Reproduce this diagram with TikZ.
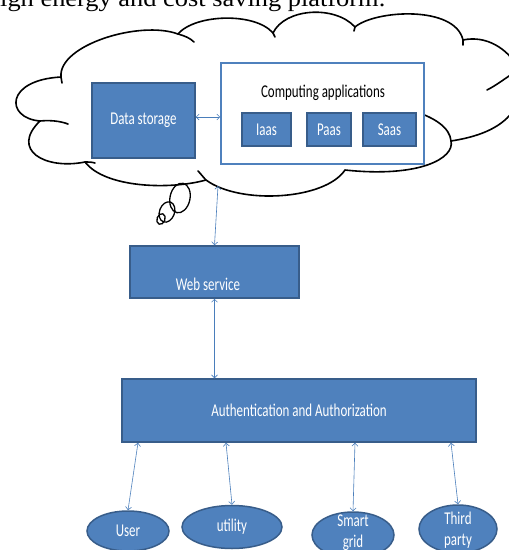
\documentclass[tikz,border=0pt]{standalone}
\usepackage{graphicx}
\usepackage{fontspec}
\setmainfont{Carlito}
\newfontfamily\pagefont{Liberation Serif}
\usetikzlibrary{arrows.meta}
\usetikzlibrary{shapes.geometric}

\definecolor{officeblue}{HTML}{4F81BD}
\definecolor{officeedge}{HTML}{385D8A}
\definecolor{linkblue}{HTML}{4A7EBB}
\newcommand{\sq}[1]{\scalebox{0.72}[1]{#1}}

\begin{document}
\begin{tikzpicture}[x=1pt, y=-1pt, font=\fontsize{18}{20}\selectfont,
    bluebox/.style={draw=officeedge, line width=1.5pt, fill=officeblue, text=white, inner sep=0pt},
    bluedisc/.style={ellipse, draw=officeedge, line width=1.5pt, fill=officeblue, text=white, inner sep=0pt},
    disctext/.style={text=white, align=center, inner sep=0pt, font=\fontsize{18}{21}\selectfont},
    link/.style={draw=linkblue, line width=0.6pt, {Straight Barb[length=3pt,width=6pt]}-{Straight Barb[length=3pt,width=6pt]}},
    cloudline/.style={line width=1.6pt, line join=round, line cap=round}]
    \useasboundingbox (0,0) rectangle (509,550);
    \clip (0,0) rectangle (509,550);
    \node[anchor=base west, inner sep=0pt, font=\pagefont\fontsize{24}{26}\selectfont] (pageline) at (0,6) {\scalebox{1.1}[1]{igh energy and cost saving platform.}};

    % cloud
    \draw[cloudline] (40,121)
        .. controls (5,118) and (5,80) .. (61,77)
        .. controls (58,45) and (140,20) .. (178,34)
        .. controls (195,14) and (255,12) .. (273,33)
        .. controls (285,8) and (335,5) .. (355,27)
        .. controls (375,10) and (455,5) .. (463,40)
        .. controls (510,30) and (545,95) .. (510,115)
        .. controls (495,132) and (470,138) .. (451,141)
        .. controls (455,158) and (420,178) .. (345,170)
        .. controls (325,200) and (240,205) .. (206,180)
        .. controls (170,190) and (105,188) .. (85,162)
        .. controls (45,170) and (10,150) .. (40,121) -- cycle;
    \draw[cloudline] (178,34) .. controls (185,36) and (190,38) .. (194,42);
    \draw[cloudline] (40,121) .. controls (50,120) and (60,121) .. (68,124);
    \draw[cloudline] (85,162) .. controls (88,162) and (92,162) .. (95,163);
    \draw[cloudline] (198,171) .. controls (201,174) and (203,177) .. (206,180);
    \draw[cloudline] (410,110) .. controls (435,117) and (450,128) .. (451,141);
    \draw[cloudline] (487,90) .. controls (495,86) and (503,80) .. (512,74);
    \draw[cloudline] (61,77) -- (62,83);
    \draw[cloudline] (273,33) -- (275,37);
    \draw[cloudline] (355,27) -- (354,31);
    \draw[cloudline] (463,40) -- (463,45);
    \draw[line width=1.3pt, shift={(180,198)}, rotate=-12] (0,0) ellipse [x radius=10, y radius=15];
    \draw[line width=1.3pt, shift={(167,212)}, rotate=-20] (0,0) ellipse [x radius=7.5, y radius=10.5];
    \draw[line width=1.3pt, shift={(161,219)}, rotate=-20] (0,0) ellipse [x radius=4, y radius=5.5];

    \node[bluebox, minimum width=103pt, minimum height=75pt] (storage) at (143.5,120.5) {\sq{Data storage}};
    \node[draw=officeblue, line width=1.6pt, fill=white, minimum width=203pt, minimum height=101pt] (apps) at (322.5,113.5) {};
    \node (appstitle) at (323,93) {\sq{Computing applications}};
    \node[bluebox, minimum width=49pt, minimum height=33pt] (iaas) at (266.5,129.5) {\sq{Iaas}};
    \node[bluebox, minimum width=44pt, minimum height=33pt] (paas) at (329,129.5) {\sq{Paas}};
    \node[bluebox, minimum width=53pt, minimum height=33pt] (saas) at (389.5,129.5) {\sq{Saas}};
    \coordinate (cloudtip) at (218,186);

    \node[bluebox, minimum width=169pt, minimum height=52pt] (web) at (214.5,272) {};
    \node[text=white] (webtext) at (208,284) {\sq{Web service}};
    \node[bluebox, minimum width=354pt, minimum height=63pt] (auth) at (299,410.5) {\sq{Authentication and Authorization}};

    \node[bluedisc, minimum width=82pt, minimum height=40pt] (user) at (128,531) {\sq{User}};
    \node[bluedisc, minimum width=100pt, minimum height=43pt] (utility) at (232,527) {\sq{utility}};
    \node[bluedisc, minimum width=82pt, minimum height=46pt] (grid) at (353,535) {};
    \node[disctext] (gridtext) at (353,533) {\sq{Smart}\\\sq{grid}};
    \node[bluedisc, minimum width=78pt, minimum height=48pt] (party) at (458,529) {};
    \node[disctext] (partytext) at (458,530) {\sq{Third}\\\sq{party}};

    \draw[link] ([yshift=3.5pt]storage.east) -- ([yshift=3.5pt]storage.east -| apps.west);
    \draw[link] (cloudtip) -- (web.north);
    \draw[link] (web.south) -- (web.south |- auth.north);
    \draw[link] ([xshift=-161pt]auth.south) -- (user.north);
    \draw[link] ([xshift=-73pt]auth.south) -- (utility.north);
    \draw[link] ([xshift=56pt]auth.south) -- (grid.north);
    \draw[link] ([xshift=152pt]auth.south) -- (party.north);
\end{tikzpicture}
\end{document}
